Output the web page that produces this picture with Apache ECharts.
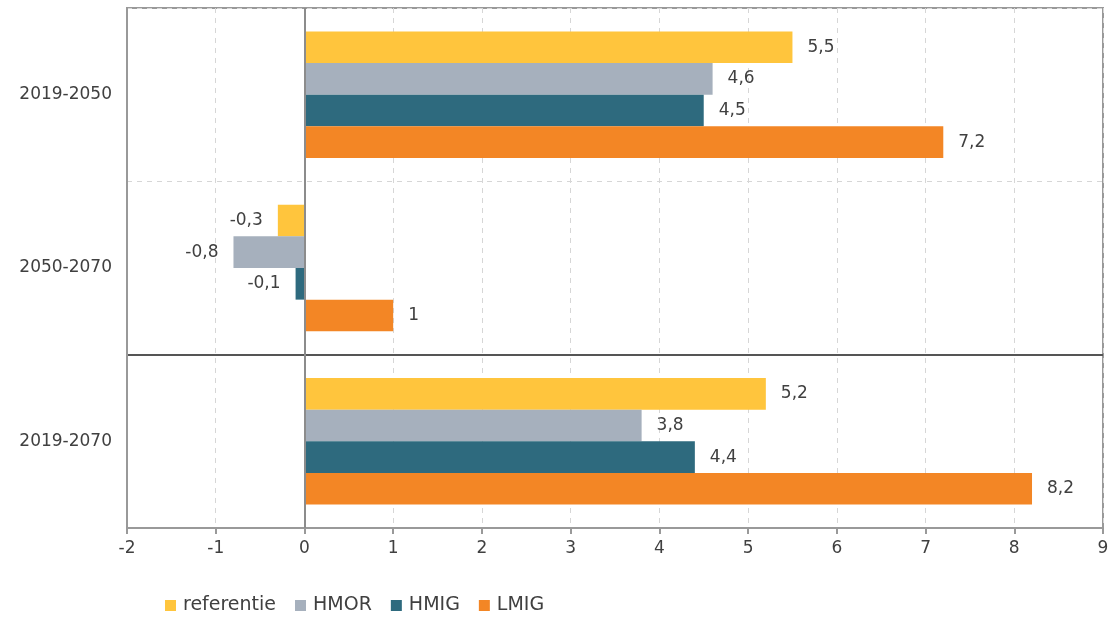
<!DOCTYPE html>
<html><head><meta charset="utf-8">
<script src="https://cdn.jsdelivr.net/npm/echarts@6/dist/echarts.min.js"></script>
<style>html,body{margin:0;padding:0;background:#fff}#c{width:1112px;height:622px}</style>
</head><body><div id="c"></div>
<script>
const categories = ['2019-2050', '2050-2070', '2019-2070'];
const seriesNames = ['referentie', 'HMOR', 'HMIG', 'LMIG'];
const referentie = [5.5, -0.3, 5.2];
const HMOR = [4.6, -0.8, 3.8];
const HMIG = [4.5, -0.1, 4.4];
const LMIG = [7.2, 1, 8.2];
const colors = ['#FFC53D', '#A6B0BD', '#2E6A7E', '#F38625'];
const xTicks = { min: -2, max: 9, interval: 1 };

const FONT = '"DejaVu Sans", sans-serif';
const values = [referentie, HMOR, HMIG, LMIG];
const fmt = v => String(v).replace('.', ',');

const series = values.map((arr, i) => ({
  name: seriesNames[i],
  type: 'bar',
  barGap: '0%',
  barCategoryGap: '27%',
  itemStyle: { color: colors[i] },
  label: {
    show: true, position: 'right', distance: 15,
    color: '#404040', fontSize: 17, fontFamily: FONT,
    formatter: p => fmt(p.value)
  },
  data: arr.map(v => v < 0 ? { value: v, label: { position: 'left' } } : v)
}));
series[0].markLine = {
  silent: true, symbol: ['none', 'none'],
  label: { show: false },
  lineStyle: { color: '#8c8c8c', width: 2, type: 'solid' },
  data: [{ xAxis: 0 }]
};

const option = {
  animation: false,
  color: colors,
  grid: { left: 127, right: 9, top: 8, bottom: 94, show: true, borderColor: '#999', borderWidth: 2, backgroundColor: 'transparent' },
  legend: {
    bottom: 2, left: 160, itemWidth: 11, itemHeight: 11, itemGap: 19,
    icon: 'rect',
    textStyle: { color: '#404040', fontSize: 19, fontFamily: FONT, padding: [0, 0, 0, 2] },
    data: seriesNames
  },
  xAxis: {
    type: 'value', min: xTicks.min, max: xTicks.max, interval: xTicks.interval,
    axisLine: { show: true, lineStyle: { color: '#999', width: 2 } },
    axisTick: { show: true, length: 6, lineStyle: { color: '#999', width: 2 } },
    axisLabel: { color: '#404040', fontSize: 17, fontFamily: FONT, margin: 12 },
    splitLine: { show: true, lineStyle: { color: '#d6d6d6', type: [5, 5], width: 1 } }
  },
  yAxis: [{
    type: 'category', data: categories, inverse: true,
    axisLine: { show: true, onZero: false, lineStyle: { color: '#999', width: 2 } },
    axisTick: { show: false },
    axisLabel: { color: '#404040', fontSize: 17, fontFamily: FONT, margin: 15 },
    splitLine: { show: true, lineStyle: { color: '#d6d6d6', type: [5, 5], width: 1 } }
  }, {
    type: 'value', min: 0, max: 3, interval: 1, position: 'left',
    axisLine: { show: false }, axisTick: { show: false }, axisLabel: { show: false },
    splitLine: { show: true, lineStyle: { color: ['rgba(0,0,0,0)', '#555', 'rgba(0,0,0,0)', 'rgba(0,0,0,0)'], width: 2 } }
  }],
  series
};
const chart = echarts.init(document.getElementById('c'), null, { renderer: 'canvas' });
chart.setOption(option);
</script></body></html>
